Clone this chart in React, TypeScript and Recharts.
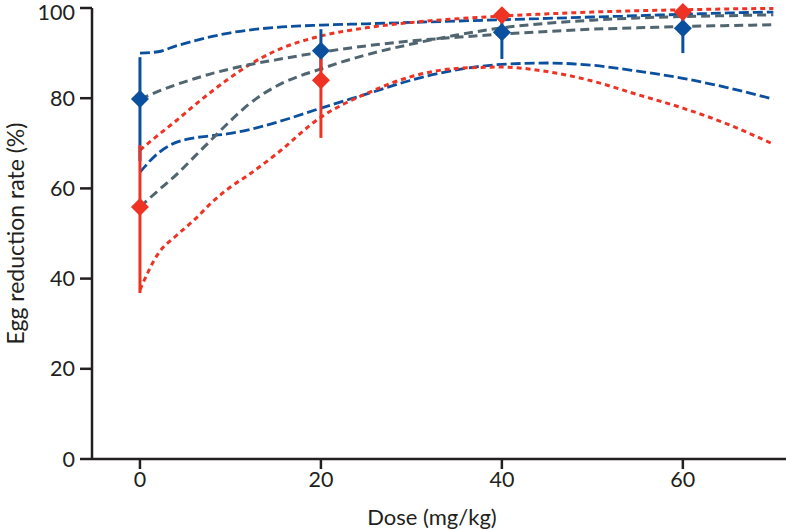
import React from 'react';
import { ComposedChart, Line, Scatter, XAxis, YAxis, ErrorBar, Label } from 'recharts';

const curveDose = [0, 2, 4, 6, 8, 10, 12, 15, 20, 25, 30, 35, 40, 45, 50, 55, 60, 65, 70];
const blueUpper = [90, 90.3, 91.6, 92.7, 93.7, 94.5, 95.1, 95.7, 96.2, 96.5, 96.8, 97.1, 97.4, 97.7, 98, 98.3, 98.6, 98.9, 99.1];
const blueLower = [63.6, 67.8, 70.2, 71.2, 71.7, 72.2, 73, 74.6, 77.8, 80.9, 84, 86.3, 87.5, 87.8, 87.3, 86, 84.4, 82.3, 79.8];
const redUpper = [68.5, 71.8, 75, 78.4, 81.6, 84.6, 87.3, 90.5, 93.8, 95.6, 96.8, 97.6, 98.2, 98.7, 99.1, 99.4, 99.6, 99.8, 99.9];
const redLower = [37.5, 45.5, 49.5, 53, 57, 60.3, 63, 67.5, 75.8, 81, 84.8, 86.6, 86.9, 85.9, 83.8, 80.8, 77.8, 74.2, 69.8];
const grayBlueFit = [79.8, 81.5, 83, 84.3, 85.5, 86.5, 87.4, 88.5, 90.2, 91.6, 92.7, 93.5, 94.2, 94.8, 95.3, 95.6, 95.9, 96.1, 96.3];
const grayRedFit = [55.9, 59.5, 63, 67, 71, 75, 78.6, 82.6, 86.5, 89.6, 92, 94, 95.6, 96.6, 97.3, 97.8, 98.1, 98.3, 98.5];

const pointDose = [0, 20, 40, 60];
const blueMean = [79.8, 90.5, 94.6, 95.5];
const blueLow = [66, 86, 88.7, 90];
const blueHigh = [89.1, 95.3, 97.5, 98];
const redMean = [55.9, 84, 98.4, 99.1];
const redLow = [36.8, 71.2, 97, 98];
const redHigh = [69.6, 91.1, 99.5, 99.8];

const xTicks = [0, 20, 40, 60];
const yTicks = [0, 20, 40, 60, 80, 100];

const BLUE = '#0b4f9f';
const RED = '#ee3224';
const GRAY = '#506570';
const INK = '#231f20';
const FONT = 'Lato, "Open Sans", sans-serif';

const toCurve = (ys: number[]) => curveDose.map((x, i) => ({ x, y: ys[i] }));
const toPoints = (m: number[], lo: number[], hi: number[]) =>
  pointDose.map((x, i) => ({ x, y: m[i], err: [m[i] - lo[i], hi[i] - m[i]] }));

const makeDiamond = (color: string) => (props: any) => {
  const { cx, cy } = props;
  const r = 9;
  return <path d={`M${cx},${cy - r}L${cx + r},${cy}L${cx},${cy + r}L${cx - r},${cy}Z`} fill={color} />;
};

export default function App() {
  return (
    <div style={{ position: 'absolute', left: 0, top: 0, background: '#fff' }}>
      <ComposedChart width={786} height={530} margin={{ top: 8, right: 0, bottom: 21, left: 0 }}>
        <XAxis
          dataKey="x"
          type="number"
          domain={[-5.3, 71.4]}
          ticks={xTicks}
          allowDataOverflow
          height={50}
          tickSize={10}
          tickMargin={3}
          axisLine={{ stroke: INK, strokeWidth: 2.5 }}
          tickLine={{ stroke: INK, strokeWidth: 2.5 }}
          tick={{ fill: INK, fontSize: 21.5, fontFamily: FONT }}
        >
          <Label value="Dose (mg/kg)" position="insideBottom" offset={-16} dx={-7} style={{ fill: INK, fontSize: 22, fontFamily: FONT }} />
        </XAxis>
        <YAxis
          type="number"
          domain={[0, 100]}
          ticks={yTicks}
          width={92}
          tickSize={12}
          tickMargin={5}
          axisLine={{ stroke: INK, strokeWidth: 2.5 }}
          tickLine={{ stroke: INK, strokeWidth: 2.5 }}
          tick={{ fill: INK, fontSize: 21.5, fontFamily: FONT }}
        >
          <Label value="Egg reduction rate (%)" angle={-90} position="insideLeft" offset={16} style={{ fill: INK, fontSize: 23, fontFamily: FONT, textAnchor: 'middle' }} />
        </YAxis>
        <Line data={toCurve(blueUpper)} dataKey="y" type="monotone" stroke={BLUE} strokeWidth={2.8} strokeDasharray="10 4" dot={false} isAnimationActive={false} />
        <Line data={toCurve(blueLower)} dataKey="y" type="monotone" stroke={BLUE} strokeWidth={2.8} strokeDasharray="10 4" dot={false} isAnimationActive={false} />
        <Line data={toCurve(redUpper)} dataKey="y" type="monotone" stroke={RED} strokeWidth={3} strokeDasharray="5 4" dot={false} isAnimationActive={false} />
        <Line data={toCurve(redLower)} dataKey="y" type="monotone" stroke={RED} strokeWidth={3} strokeDasharray="5 4" dot={false} isAnimationActive={false} />
        <Line data={toCurve(grayBlueFit)} dataKey="y" type="monotone" stroke={GRAY} strokeWidth={3} strokeDasharray="9 5" dot={false} isAnimationActive={false} />
        <Line data={toCurve(grayRedFit)} dataKey="y" type="monotone" stroke={GRAY} strokeWidth={3} strokeDasharray="9 5" dot={false} isAnimationActive={false} />
        <Scatter data={toPoints(blueMean, blueLow, blueHigh)} dataKey="y" fill={BLUE} shape={makeDiamond(BLUE)} isAnimationActive={false}>
          <ErrorBar dataKey="err" direction="y" width={0} stroke={BLUE} strokeWidth={3} />
        </Scatter>
        <Scatter data={toPoints(redMean, redLow, redHigh)} dataKey="y" fill={RED} shape={makeDiamond(RED)} isAnimationActive={false}>
          <ErrorBar dataKey="err" direction="y" width={0} stroke={RED} strokeWidth={3} />
        </Scatter>
      </ComposedChart>
    </div>
  );
}
